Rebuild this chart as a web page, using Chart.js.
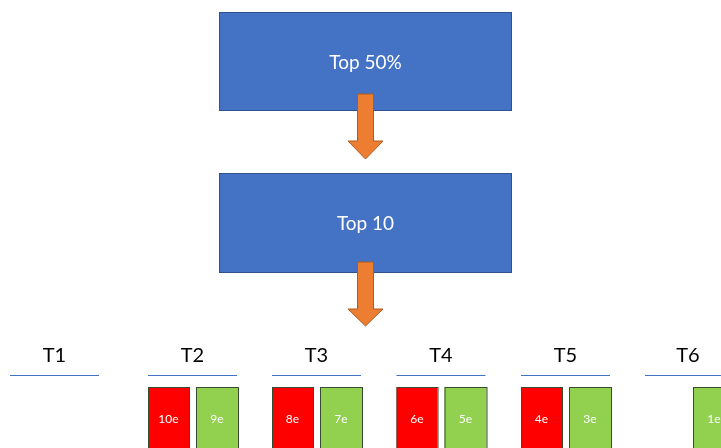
<!DOCTYPE html>
<html>
<head>
<meta charset="utf-8">
<script src="https://cdn.jsdelivr.net/npm/chart.js@4.4.1/dist/chart.umd.min.js"></script>
<style>
  html, body { margin: 0; padding: 0; background: #fff; }
  #wrap { width: 721px; height: 448px; position: relative; }
</style>
</head>
<body>
<div id="wrap"><canvas id="diagrama"></canvas></div>
<script>
// Datos del diagrama
const etapas = ["Top 50%", "Top 10"];
const tramos = ["T1", "T2", "T3", "T4", "T5", "T6"];
const itemsRojos = [null, "10e", "8e", "6e", "4e", null];
const itemsVerdes = [null, "9e", "7e", "5e", "3e", "1e"];

// Disposición (en unidades de la escala, 0..721 x 0..448)
const layout = {
  cajaX: [219.5, 511.5],
  cajaY: [[12.5, 110.5], [173.5, 272.5]],
  flechas: [[94, 141, 159], [262, 309, 326]],
  flechaX: 365.5, ejeAncho: 8, cabezaAncho: 17.5,
  tramoX: [54.5, 192.5, 316.5, 441, 565.5, 689.5],
  tramoLabelY: 356, lineaY: 375, itemTop: 387, itemBottom: 470
};

const colores = {
  caja: "#4472C4", cajaBorde: "#2F528F",
  flecha: "#ED7D31", flechaBorde: "#AE5A21",
  rojo: "#FF0000", verde: "#92D050", itemBorde: "#3A4A30",
  linea: "#4472C4"
};

const diagramaPlugin = {
  id: "diagrama",
  afterDraw(chart) {
    const ctx = chart.ctx;
    const sx = v => chart.scales.x.getPixelForValue(v);
    const sy = v => chart.scales.y.getPixelForValue(v);
    ctx.save();

    // Cajas azules
    etapas.forEach((txt, i) => {
      const [y0, y1] = layout.cajaY[i];
      const x0 = sx(layout.cajaX[0]), x1 = sx(layout.cajaX[1]);
      ctx.fillStyle = colores.caja;
      ctx.fillRect(x0, sy(y0), x1 - x0, sy(y1) - sy(y0));
      ctx.strokeStyle = colores.cajaBorde;
      ctx.lineWidth = 1;
      ctx.strokeRect(x0, sy(y0), x1 - x0, sy(y1) - sy(y0));
      ctx.fillStyle = "#fff";
      ctx.font = "19px Lato, 'Open Sans', sans-serif";
      ctx.textAlign = "center";
      ctx.textBaseline = "middle";
      ctx.fillText(txt, sx((layout.cajaX[0] + layout.cajaX[1]) / 2), sy((y0 + y1) / 2 + 1));
    });

    // Flechas naranjas
    layout.flechas.forEach(([top, cabeza, punta]) => {
      const cx = layout.flechaX;
      ctx.beginPath();
      ctx.moveTo(sx(cx - layout.ejeAncho), sy(top));
      ctx.lineTo(sx(cx + layout.ejeAncho), sy(top));
      ctx.lineTo(sx(cx + layout.ejeAncho), sy(cabeza));
      ctx.lineTo(sx(cx + layout.cabezaAncho), sy(cabeza));
      ctx.lineTo(sx(cx), sy(punta));
      ctx.lineTo(sx(cx - layout.cabezaAncho), sy(cabeza));
      ctx.lineTo(sx(cx - layout.ejeAncho), sy(cabeza));
      ctx.closePath();
      ctx.fillStyle = colores.flecha;
      ctx.fill();
      ctx.strokeStyle = colores.flechaBorde;
      ctx.lineWidth = 1;
      ctx.stroke();
    });

    // Tramos
    tramos.forEach((t, i) => {
      const cx = layout.tramoX[i];
      ctx.fillStyle = "#000";
      ctx.font = "20px Lato, 'Open Sans', sans-serif";
      ctx.textAlign = "center";
      ctx.textBaseline = "middle";
      ctx.fillText(t, sx(cx - (i === 5 ? 1.5 : 0)), sy(layout.tramoLabelY));
      ctx.strokeStyle = colores.linea;
      ctx.lineWidth = 1;
      ctx.beginPath();
      ctx.moveTo(sx(cx - 44.5), Math.round(sy(layout.lineaY)) + 0.5);
      ctx.lineTo(sx(cx + 44.5), Math.round(sy(layout.lineaY)) + 0.5);
      ctx.stroke();

      const slots = [[itemsRojos[i], colores.rojo, cx - 44.5, cx - 3.5],
                     [itemsVerdes[i], colores.verde, cx + 3.5, cx + 45.5]];
      slots.forEach(([lab, col, a, b]) => {
        if (!lab) return;
        const x0 = sx(a), x1 = sx(b), y0 = sy(layout.itemTop), y1 = sy(layout.itemBottom);
        ctx.fillStyle = col;
        ctx.fillRect(x0, y0, x1 - x0, y1 - y0);
        ctx.strokeStyle = colores.itemBorde;
        ctx.strokeRect(x0 + 0.5, y0 + 0.5, x1 - x0, y1 - y0);
        ctx.fillStyle = "#fff";
        ctx.font = "12px Lato, 'Open Sans', sans-serif";
        ctx.fillText(lab, (x0 + x1) / 2, sy(419));
      });
    });
    ctx.restore();
  }
};

const fondoBlanco = {
  id: "fondoBlanco",
  beforeDraw(chart) {
    const ctx = chart.ctx;
    ctx.save();
    ctx.fillStyle = "#fff";
    ctx.fillRect(0, 0, chart.width, chart.height);
    ctx.restore();
  }
};

new Chart(document.getElementById("diagrama").getContext("2d"), {
  type: "scatter",
  data: { datasets: [{ data: [], pointRadius: 0 }] },
  options: {
    responsive: true,
    maintainAspectRatio: false,
    animation: false,
    layout: { padding: 0 },
    plugins: { legend: { display: false }, tooltip: { enabled: false } },
    scales: {
      x: { type: "linear", min: 0, max: 721, display: false },
      y: { type: "linear", min: 0, max: 448, reverse: true, display: false }
    }
  },
  plugins: [fondoBlanco, diagramaPlugin]
});
</script>
</body>
</html>
